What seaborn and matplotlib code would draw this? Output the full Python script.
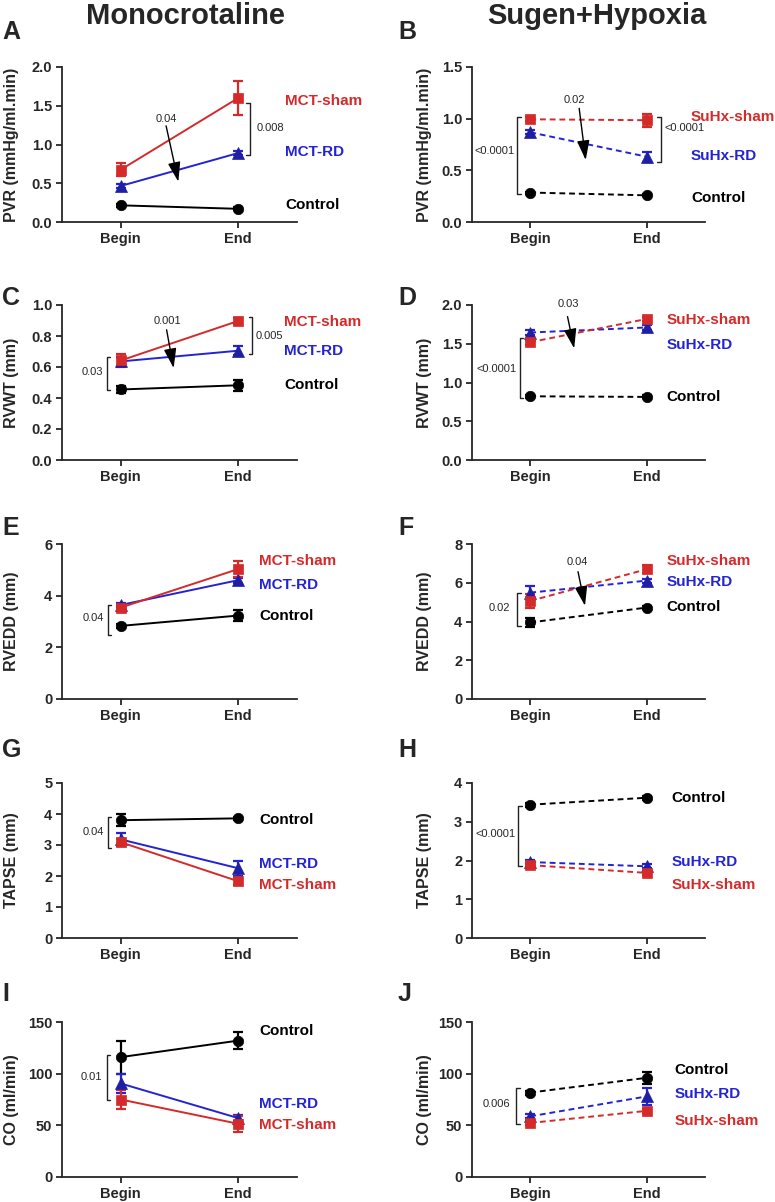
import numpy as np
import pandas as pd
import matplotlib
matplotlib.use("Agg")
import matplotlib.pyplot as plt
from matplotlib.ticker import FormatStrFormatter
import seaborn as sns


#########################################
######### DATA ########
#########################################

time_labels = ["Begin", "End"]
mct_groups = ["Control", "MCT-sham", "MCT-RD"]
suhx_groups = ["Control", "SuHx-sham", "SuHx-RD"]

# PVR (mmHg/ml.min)
pvr_mct_mean = {"Control": [0.215, 0.17], "MCT-sham": [0.675, 1.60], "MCT-RD": [0.465, 0.89]}
pvr_mct_err = {"Control": [0.02, 0.02], "MCT-sham": [0.08, 0.22], "MCT-RD": [0.02, 0.03]}
pvr_suhx_mean = {"Control": [0.285, 0.258], "SuHx-sham": [0.994, 0.985], "SuHx-RD": [0.868, 0.632]}
pvr_suhx_err = {"Control": [0.01, 0.01], "SuHx-sham": [0.02, 0.065], "SuHx-RD": [0.02, 0.05]}

# RVWT (mm)
rvwt_mct_mean = {"Control": [0.455, 0.482], "MCT-sham": [0.642, 0.897], "MCT-RD": [0.636, 0.705]}
rvwt_mct_err = {"Control": [0.02, 0.035], "MCT-sham": [0.04, 0.02], "MCT-RD": [0.03, 0.03]}
rvwt_suhx_mean = {"Control": [0.822, 0.814], "SuHx-sham": [1.52, 1.82], "SuHx-RD": [1.645, 1.71]}
rvwt_suhx_err = {"Control": [0.02, 0.02], "SuHx-sham": [0.03, 0.03], "SuHx-RD": [0.03, 0.03]}

# RVEDD (mm)
rvedd_mct_mean = {"Control": [2.83, 3.23], "MCT-sham": [3.54, 5.03], "MCT-RD": [3.64, 4.60]}
rvedd_mct_err = {"Control": [0.08, 0.2], "MCT-sham": [0.1, 0.3], "MCT-RD": [0.08, 0.1]}
rvedd_suhx_mean = {"Control": [3.95, 4.72], "SuHx-sham": [5.06, 6.70], "SuHx-RD": [5.49, 6.11]}
rvedd_suhx_err = {"Control": [0.25, 0.1], "SuHx-sham": [0.35, 0.2], "SuHx-RD": [0.35, 0.1]}

# TAPSE (mm)
tapse_mct_mean = {"Control": [3.80, 3.86], "MCT-sham": [3.09, 1.83], "MCT-RD": [3.18, 2.25]}
tapse_mct_err = {"Control": [0.2, 0.05], "MCT-sham": [0.1, 0.12], "MCT-RD": [0.2, 0.25]}
tapse_suhx_mean = {"Control": [3.44, 3.62], "SuHx-sham": [1.88, 1.68], "SuHx-RD": [1.96, 1.85]}
tapse_suhx_err = {"Control": [0.05, 0.05], "SuHx-sham": [0.05, 0.05], "SuHx-RD": [0.05, 0.05]}

# CO (ml/min)
co_mct_mean = {"Control": [116, 132], "MCT-sham": [75, 51.5], "MCT-RD": [90.5, 57]}
co_mct_err = {"Control": [16, 8], "MCT-sham": [9, 8], "MCT-RD": [9, 3]}
co_suhx_mean = {"Control": [81.7, 96], "SuHx-sham": [52.3, 64], "SuHx-RD": [58.7, 78]}
co_suhx_err = {"Control": [2, 6], "SuHx-sham": [2, 2], "SuHx-RD": [2, 8]}


#########################################
######### STYLE #########################
#########################################

sns.set_style("ticks")
plt.rcParams["font.family"] = ["Liberation Sans", "DejaVu Sans"]

RED = "#D42A2A"
BLUE = "#2323D6"
NAVY = "#1F1FA3"

def role(group):
    if group == "Control":
        return dict(color="black", mfc="black", marker="o", ms=7.5)
    if group.endswith("sham"):
        return dict(color=RED, mfc=RED, marker="s", ms=7.5)
    return dict(color=BLUE, mfc=NAVY, marker="^", ms=8)

def long_df(means, errs):
    rows = []
    for g in means:
        for i, t in enumerate(time_labels):
            rows.append({"group": g, "t": i, "time": t,
                         "mean": means[g][i], "err": errs[g][i]})
    return pd.DataFrame(rows)


#########################################
######### PANEL LAYOUT ##################
#########################################

# each panel: data, y-axis, series label y positions, brackets and arrows
panels = [
    dict(letter="A", means=pvr_mct_mean, errs=pvr_mct_err, dashed=False,
         ylabel="PVR (mmHg/ml.min)", ymax=2.0, ystep=0.5, fmt="%.1f",
         lab_x=1.40, lab_y={"Control": 0.215, "MCT-sham": 1.56, "MCT-RD": 0.90},
         brackets=[(1.10, 0.86, 1.535, "0.008", 1.16, 1.21, "right")],
         arrow=("0.04", (0.386, 1.33), (0.386, 1.24), (0.49, 0.52))),
    dict(letter="B", means=pvr_suhx_mean, errs=pvr_suhx_err, dashed=True,
         ylabel="PVR (mmHg/ml.min)", ymax=1.5, ystep=0.5, fmt="%.1f",
         lab_x=1.38, lab_y={"Control": 0.235, "SuHx-sham": 1.02, "SuHx-RD": 0.635},
         brackets=[(-0.113, 0.274, 1.02, "<0.0001", -0.13, 0.69, "left"),
                   (1.12, 0.58, 1.02, "<0.0001", 1.15, 0.91, "right")],
         arrow=("0.02", (0.377, 1.18), (0.42, 1.10), (0.476, 0.60))),
    dict(letter="C", means=rvwt_mct_mean, errs=rvwt_mct_err, dashed=False,
         ylabel="RVWT (mm)", ymax=1.0, ystep=0.2, fmt="%.1f",
         lab_x=1.39, lab_y={"Control": 0.486, "MCT-sham": 0.893, "MCT-RD": 0.705},
         brackets=[(-0.12, 0.454, 0.664, "0.03", -0.15, 0.567, "left"),
                   (1.12, 0.685, 0.925, "0.005", 1.15, 0.797, "right")],
         arrow=("0.001", (0.40, 0.897), (0.39, 0.84), (0.45, 0.593))),
    dict(letter="D", means=rvwt_suhx_mean, errs=rvwt_suhx_err, dashed=True,
         ylabel="RVWT (mm)", ymax=2.0, ystep=0.5, fmt="%.1f",
         lab_x=1.17, lab_y={"Control": 0.814, "SuHx-sham": 1.81, "SuHx-RD": 1.486},
         brackets=[(-0.09, 0.80, 1.57, "<0.0001", -0.12, 1.17, "left")],
         arrow=("0.03", (0.33, 2.01), (0.32, 1.85), (0.377, 1.44))),
    dict(letter="E", means=rvedd_mct_mean, errs=rvedd_mct_err, dashed=False,
         ylabel="RVEDD (mm)", ymax=6, ystep=2, fmt="%d",
         lab_x=1.18, lab_y={"Control": 3.23, "MCT-sham": 5.34, "MCT-RD": 4.41},
         brackets=[(-0.11, 2.48, 3.64, "0.04", -0.14, 3.13, "left")],
         arrow=None),
    dict(letter="F", means=rvedd_suhx_mean, errs=rvedd_suhx_err, dashed=True,
         ylabel="RVEDD (mm)", ymax=8, ystep=2, fmt="%d",
         lab_x=1.17, lab_y={"Control": 4.74, "SuHx-sham": 7.12, "SuHx-RD": 6.06},
         brackets=[(-0.11, 3.79, 5.49, "0.02", -0.17, 4.69, "left")],
         arrow=("0.04", (0.405, 7.09), (0.41, 6.57), (0.47, 4.81))),
    dict(letter="G", means=tapse_mct_mean, errs=tapse_mct_err, dashed=False,
         ylabel="TAPSE (mm)", ymax=5, ystep=1, fmt="%d",
         lab_x=1.18, lab_y={"Control": 3.82, "MCT-sham": 1.72, "MCT-RD": 2.39},
         brackets=[(-0.11, 2.9, 3.91, "0.04", -0.14, 3.41, "left")],
         arrow=None),
    dict(letter="H", means=tapse_suhx_mean, errs=tapse_suhx_err, dashed=True,
         ylabel="TAPSE (mm)", ymax=4, ystep=1, fmt="%d",
         lab_x=1.21, lab_y={"Control": 3.62, "SuHx-sham": 1.38, "SuHx-RD": 1.96},
         brackets=[(-0.105, 1.86, 3.41, "<0.0001", -0.125, 2.68, "left")],
         arrow=None),
    dict(letter="I", means=co_mct_mean, errs=co_mct_err, dashed=False,
         ylabel="CO (ml/min)", ymax=150, ystep=50, fmt="%d",
         lab_x=1.18, lab_y={"Control": 141, "MCT-sham": 50.6, "MCT-RD": 70.8},
         brackets=[(-0.12, 74.7, 118, "0.01", -0.16, 97, "left")],
         arrow=None),
    dict(letter="J", means=co_suhx_mean, errs=co_suhx_err, dashed=True,
         ylabel="CO (ml/min)", ymax=150, ystep=50, fmt="%d",
         lab_x=1.235, lab_y={"Control": 103.5, "SuHx-sham": 54.5, "SuHx-RD": 80.4},
         brackets=[(-0.12, 51.6, 85.9, "0.006", -0.175, 70.8, "left")],
         arrow=None),
]


#########################################
######### FIGURE ########################
#########################################

W, H = 775, 1202
fig = plt.figure(figsize=(W / 100, H / 100), dpi=100)

col_left = [62, 472]
col_width = [235, 233]
ylabel_x = [-0.185, -0.172]
row_top = [67, 305, 544, 783, 1022]
ax_h = 155
letter_top = [20, 286, 516, 738, 982]
letter_x = [2, 398]

fig.text(185 / W, 1 - 24 / H, "Monocrotaline", ha="center", va="baseline",
         fontsize=21, fontweight="bold")
fig.text(597 / W, 1 - 24 / H, "Sugen+Hypoxia", ha="center", va="baseline",
         fontsize=21, fontweight="bold")

for k, p in enumerate(panels):
    row, col = k // 2, k % 2
    ax = fig.add_axes([col_left[col] / W, 1 - (row_top[row] + ax_h) / H,
                       col_width[col] / W, ax_h / H])
    fig.text(letter_x[col] / W, 1 - letter_top[row] / H, p["letter"],
             ha="left", va="top", fontsize=18, fontweight="bold")

    df = long_df(p["means"], p["errs"])
    groups = list(p["means"].keys())
    order = [groups[0], groups[2], groups[1]]
    ls = (0, (3, 2)) if p["dashed"] else "-"

    for g in order:
        r = role(g)
        sub = df[df["group"] == g]
        ax.errorbar(sub["t"], sub["mean"], yerr=sub["err"], fmt="none",
                    ecolor=r["color"], elinewidth=1.6, capsize=3.5, capthick=1.6,
                    zorder=2, clip_on=False)
        sns.lineplot(data=sub, x="t", y="mean", ax=ax, color=r["color"],
                     marker=r["marker"], markersize=r["ms"],
                     markerfacecolor=r["mfc"], markeredgecolor=r["mfc"],
                     markeredgewidth=0.5, linestyle=ls, linewidth=1.4,
                     errorbar=None, legend=False, zorder=3, clip_on=False)
        ax.text(p["lab_x"], p["lab_y"][g], g, color=r["color"], fontsize=11,
                fontweight="bold", va="center", ha="left", clip_on=False)

    # significance brackets
    for bx, y1, y2, txt, tx, ty, side in p["brackets"]:
        d = 0.03 if side == "left" else -0.03
        ax.plot([bx + d, bx, bx, bx + d], [y1, y1, y2, y2], color="#222222",
                lw=1.0, clip_on=False)
        ax.text(tx, ty, txt, fontsize=8,
                ha="left" if side == "right" else "right", va="center",
                clip_on=False)

    # arrow
    if p["arrow"] is not None:
        txt, tpos, tail, head = p["arrow"]
        ax.text(tpos[0], tpos[1], txt, fontsize=8, ha="center", va="center")
        ax.annotate("", xy=head, xytext=tail,
                    arrowprops=dict(arrowstyle="-|>,head_length=1.0,head_width=0.32",
                                    color="black", lw=1.0, mutation_scale=12,
                                    shrinkA=0, shrinkB=0))

    ax.set_xlim(-0.5, 1.5)
    ax.set_ylim(0, p["ymax"])
    ax.set_xticks([0, 1])
    ax.set_xticklabels(time_labels)
    ax.set_yticks(np.arange(0, p["ymax"] + p["ystep"] / 2, p["ystep"]))
    ax.yaxis.set_major_formatter(FormatStrFormatter(p["fmt"]))
    ax.set_xlabel("")
    ax.set_ylabel(p["ylabel"], fontsize=11.5, fontweight="bold")
    ax.yaxis.set_label_coords(ylabel_x[col], 0.5)
    sns.despine(ax=ax)
    for s in ["left", "bottom"]:
        ax.spines[s].set_linewidth(1.3)
    ax.tick_params(direction="out", length=4, width=1.3, labelsize=10.5, pad=3)
    for lbl in ax.get_xticklabels() + ax.get_yticklabels():
        lbl.set_fontweight("bold")

fig.savefig("out.png", dpi=100)
